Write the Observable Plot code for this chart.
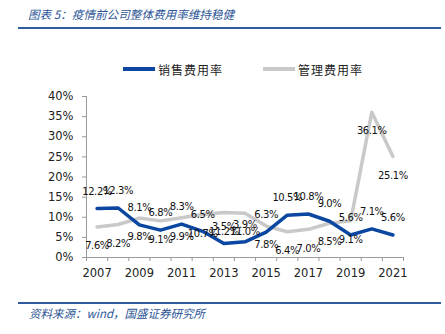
<!DOCTYPE html>
<html>
<head>
<meta charset="utf-8">
<script src="https://cdn.jsdelivr.net/npm/d3@7"></script>
<script src="https://cdn.jsdelivr.net/npm/@observablehq/plot@0.6"></script>
<style>
  html, body { margin: 0; padding: 0; background: #fff; }
  #wrap { position: relative; width: 445px; height: 334px; overflow: hidden; background: #fff; }
  #title { position: absolute; left: 28px; top: 5px; font-family: "Noto Sans CJK SC", sans-serif; font-style: italic; font-size: 11.6px; color: #2d5597; white-space: nowrap; line-height: 18px; }
  .rule { position: absolute; left: 18px; width: 423px; height: 2px; background: #2f5a9e; }
  #legend { position: absolute; top: 60px; left: 0; width: 445px; height: 18px; font-family: "Noto Sans CJK SC", sans-serif; font-size: 12px; color: #222; }
  .lg { position: absolute; top: 0; display: flex; align-items: center; height: 18px; letter-spacing: 1px; white-space: nowrap; }
  .sw { display: inline-block; width: 32px; height: 3.5px; margin-right: 3px; }
  #chart { position: absolute; left: 0; top: 80px; }
  #source { position: absolute; left: 29px; top: 305px; font-family: "Noto Sans CJK SC", sans-serif; font-style: italic; font-size: 11.5px; color: #2d5597; white-space: nowrap; line-height: 16px; }
</style>
</head>
<body>
<div id="wrap">
  <div id="title">图表 5：疫情前公司整体费用率维持稳健</div>
  <div class="rule" style="top:27px;"></div>
  <div id="legend"></div>
  <div id="chart"></div>
  <div class="rule" style="top:302px;"></div>
  <div id="source">资料来源：wind，国盛证券研究所</div>
</div>
<script>
const years = [2007, 2008, 2009, 2010, 2011, 2012, 2013, 2014, 2015, 2016, 2017, 2018, 2019, 2020, 2021];
const salesRate = [12.2, 12.3, 8.1, 6.8, 8.3, 6.5, 3.5, 3.9, 6.3, 10.5, 10.8, 9.0, 5.6, 7.1, 5.6];
const adminRate = [7.6, 8.2, 9.8, 9.1, 9.9, 10.7, 11.2, 11.0, 7.8, 6.4, 7.0, 8.5, 9.1, 36.1, 25.1];
const seriesNames = ["销售费用率", "管理费用率"];
const seriesColors = ["#0b47a1", "#c9c9c9"];
const yTicks = [0, 5, 10, 15, 20, 25, 30, 35, 40];
const xLabelYears = [2007, 2009, 2011, 2013, 2015, 2017, 2019, 2021];

// legend
const legend = document.getElementById("legend");
const legendLeft = [123, 263];
seriesNames.forEach((name, i) => {
  const item = document.createElement("div");
  item.className = "lg";
  item.style.left = legendLeft[i] + "px";
  item.innerHTML = `<span class="sw" style="background:${seriesColors[i]}"></span><span>${name}</span>`;
  legend.appendChild(item);
});

const data = years.map((year, i) => ({year, sales: salesRate[i], admin: adminRate[i]}));
const boundaries = [years[0] - 0.5, ...years.map(y => y + 0.5)];

const labelFont = {fontFamily: "DejaVu Sans", fontSize: 10, fill: "#111"};

const chart = Plot.plot({
  width: 445,
  height: 200,
  marginTop: 16,
  marginBottom: 23,
  marginLeft: 86,
  marginRight: 42,
  style: {fontFamily: "DejaVu Sans", fontSize: "11.5px", background: "transparent", color: "#222"},
  x: {type: "linear", domain: [years[0] - 0.5, years[years.length - 1] + 0.5]},
  y: {domain: [0, 40]},
  marks: [
    Plot.axisY({ticks: yTicks, tickSize: 4, tickPadding: 9, tickFormat: d => d + "%", stroke: "#999", fill: "#222", label: null}),
    Plot.axisX({ticks: boundaries, tickSize: 4, tickFormat: () => "", stroke: "#999", label: null}),
    Plot.axisX({ticks: xLabelYears, tickSize: 0, tickPadding: 11, tickFormat: d => String(d), fill: "#222", label: null}),
    Plot.ruleX([boundaries[0]], {stroke: "#999"}),
    Plot.ruleY([0], {stroke: "#999"}),
    Plot.line(data, {x: "year", y: "admin", stroke: seriesColors[1], strokeWidth: 3.5}),
    Plot.line(data, {x: "year", y: "sales", stroke: seriesColors[0], strokeWidth: 3.5}),
    Plot.text(data, {x: "year", y: "sales", text: d => d.sales.toFixed(1) + "%", dy: -17, ...labelFont, style: "letter-spacing:-0.4px"}),
    Plot.text(data, {x: "year", y: "admin", text: d => d.admin.toFixed(1) + "%", dy: 19, ...labelFont})
  ]
});
chart.querySelectorAll("text").forEach(t => {
  if (t.closest("g[aria-label='text']")) t.style.letterSpacing = "-0.4px";
});
document.getElementById("chart").appendChild(chart);
</script>
</body>
</html>
